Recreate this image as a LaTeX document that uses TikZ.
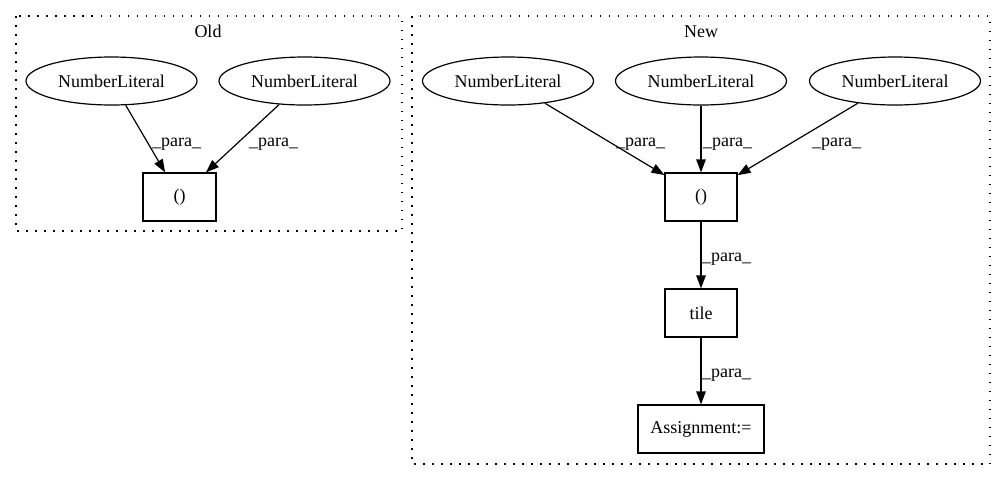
\documentclass[tikz,border=0pt]{standalone}
\usepackage{fontspec}
\setmainfont{Liberation Serif}
\usetikzlibrary{shapes.geometric,arrows.meta}
\begin{document}
\begin{tikzpicture}[x=1pt,y=-1pt,
  every node/.style={font=\fontsize{18}{21}\selectfont},
  lit/.style={draw,ellipse,line width=1.2pt,minimum width=171pt,minimum height=48pt,inner sep=0pt},
  box/.style={draw,rectangle,line width=1.2pt,minimum height=48pt,inner sep=0pt},
  cluster/.style={draw,line width=1.2pt,dash pattern=on 1.5pt off 7.5pt},
  edge/.style={line width=1.2pt,-{Triangle[length=13pt,width=9.5pt]}},
  elabel/.style={anchor=base west,inner sep=0pt},
  ttl/.style={anchor=base,inner sep=0pt}
]
\useasboundingbox (0,0) rectangle (1007,480);
% clusters
\draw[cluster] (16,16) rectangle (402,231);
\draw[cluster] (412,16) rectangle (990,464);
\node[ttl] (told) at (208,37) {Old};
\node[ttl] (tnew) at (701,37) {New};
% Old
\node[lit] (o1) at (111.5,81) {NumberLiteral};
\node[lit] (o2) at (304.5,81) {NumberLiteral};
\node[box,minimum width=73pt] (ob) at (179.5,197) {()};
% New
\node[lit] (n1) at (508,81) {NumberLiteral};
\node[lit] (n2) at (701,81) {NumberLiteral};
\node[lit] (n3) at (895,81) {NumberLiteral};
\node[box,minimum width=72pt] (nb) at (701,197) {()};
\node[box,minimum width=72pt] (tile) at (701,313) {tile};
\node[box,minimum width=126pt] (asg) at (701,429) {Assignment:=};
% edges
\draw[edge] (o1) -- (ob);
\draw[edge] (o2) -- (ob);
\draw[edge] (n1) -- (nb);
\draw[edge] (n2) -- (nb);
\draw[edge] (n3) -- (nb);
\draw[edge] (nb) -- (tile);
\draw[edge] (tile) -- (asg);
% edge labels
\node[elabel] (l1) at (152,146) {\_para\_};
\node[elabel] (l2) at (249,146) {\_para\_};
\node[elabel] (l3) at (616,146) {\_para\_};
\node[elabel] (l4) at (703,146) {\_para\_};
\node[elabel] (l5) at (812,146) {\_para\_};
\node[elabel] (l6) at (702,261) {\_para\_};
\node[elabel] (l7) at (702,377) {\_para\_};
\end{tikzpicture}
\end{document}
